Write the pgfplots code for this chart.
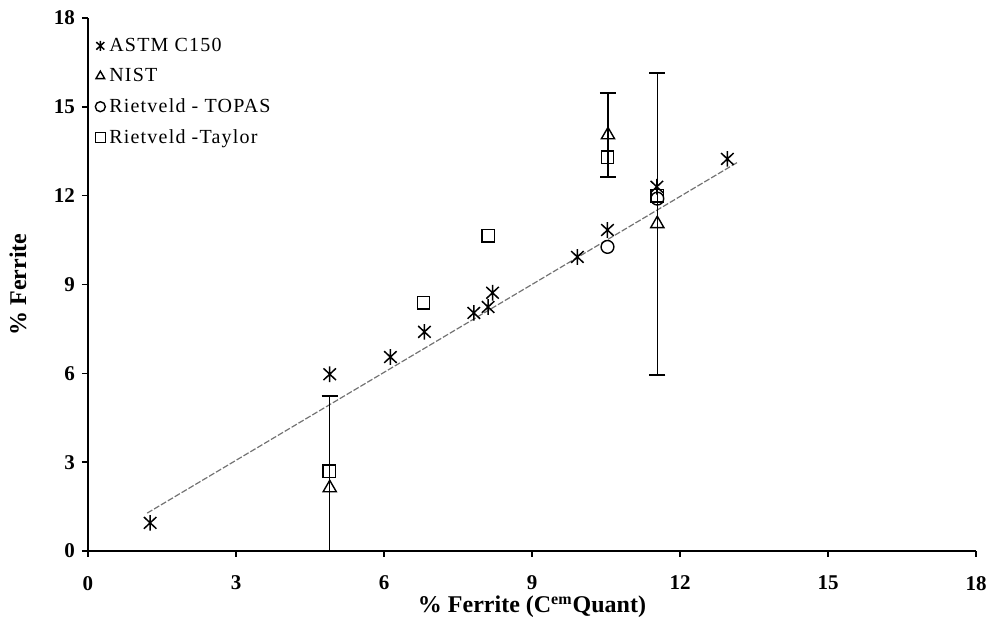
\documentclass[border=0pt]{standalone}
\usepackage{fontspec}
\setmainfont{Liberation Serif}
\newfontfamily\legfont[LetterSpace=6]{Liberation Serif}
\usepackage{pgfplots}
\pgfplotsset{compat=1.18}
\pgfdeclareplotmark{xstar}{%
  \pgfpathmoveto{\pgfqpoint{0pt}{\pgfplotmarksize}}%
  \pgfpathlineto{\pgfqpoint{0pt}{-\pgfplotmarksize}}%
  \pgfpathmoveto{\pgfqpoint{-0.8\pgfplotmarksize}{-0.75\pgfplotmarksize}}%
  \pgfpathlineto{\pgfqpoint{0.8\pgfplotmarksize}{0.75\pgfplotmarksize}}%
  \pgfpathmoveto{\pgfqpoint{-0.8\pgfplotmarksize}{0.75\pgfplotmarksize}}%
  \pgfpathlineto{\pgfqpoint{0.8\pgfplotmarksize}{-0.75\pgfplotmarksize}}%
  \pgfusepathqstroke}
\begin{document}
\begin{tikzpicture}
\path[use as bounding box] (-44pt,-39.5pt) rectangle (450.5pt,275.5pt);
\begin{axis}[
  at={(0,0)}, anchor=south west,
  scale only axis, width=444pt, height=266.5pt,
  xmin=0, xmax=18, ymin=0, ymax=18,
  xtick={0,3,...,18}, ytick={0,3,...,18},
  axis lines=left, axis line style={line width=1.2pt, -},
  tick align=outside, major tick length=3pt,
  tick style={line width=0.8pt, black},
  /pgf/number format/assume math mode=true,
  ticklabel style={font=\fontsize{10.5}{12}\selectfont\bfseries},
  xticklabel style={yshift=-6pt},
  xlabel={\% Ferrite (C\textsuperscript{em}Quant)},
  ylabel={\% Ferrite},
  label style={font=\fontsize{12}{14}\selectfont\bfseries},
  xlabel style={at={(axis description cs:0.5,0)}, anchor=center, yshift=-28pt},
  ylabel style={at={(axis description cs:-0.079,0.5)}, anchor=center},
  legend style={draw=none, fill=none, at={(axis cs:0.1,17.55)}, anchor=north west,
    font=\legfont\fontsize{10}{11}\selectfont, row sep=3pt, inner sep=1pt},
  legend cell align=left,
  legend image code/.code={\draw[#1, mark size=2.5pt, mark repeat=2, mark phase=2] plot coordinates {(0cm,0cm)(0.13cm,0cm)(0.26cm,0cm)};},
]
% trend line
\addplot[black!55, line width=0.6pt, dash pattern=on 3pt off 1pt, forget plot] coordinates {(1.2,1.28) (13.18,13.14)};
% ASTM C150
\addplot[only marks, mark=xstar, mark size=3.9pt, black, mark options={line width=0.75pt}] coordinates {
(1.26,0.95) (4.9,5.97) (6.13,6.55) (6.82,7.4) (7.82,8.04) (8.11,8.24) (8.2,8.72)
(9.92,9.93) (10.53,10.84) (11.53,12.3) (12.96,13.24)};
\addlegendentry{ASTM C150}
% NIST
\addplot[only marks, mark=triangle, mark size=3.8pt, black, mark options={line width=0.7pt},
  error bars/.cd, y dir=both, y explicit, error bar style={line width=0.6pt, black},
  error mark options={rotate=90, mark size=4pt, line width=0.8pt}] coordinates {
(4.9,2.13) +- (0,3.1)
(10.54,14.05) +- (0,1.42)
(11.54,11.05) +- (0,5.1)};
\addlegendentry{NIST}
% Rietveld TOPAS
\addplot[only marks, mark=o, mark size=3.2pt, black, mark options={line width=0.7pt}] coordinates {
(10.53,10.27) (11.54,11.9)};
\addlegendentry{Rietveld - TOPAS}
% Rietveld Taylor
\addplot[only marks, mark=square, mark size=3.1pt, black, mark options={line width=0.7pt}] coordinates {
(4.89,2.7) (6.8,8.38) (8.11,10.64) (10.53,13.3) (11.54,12.0)};
\addlegendentry{Rietveld -Taylor}
\end{axis}
\end{tikzpicture}
\end{document}
